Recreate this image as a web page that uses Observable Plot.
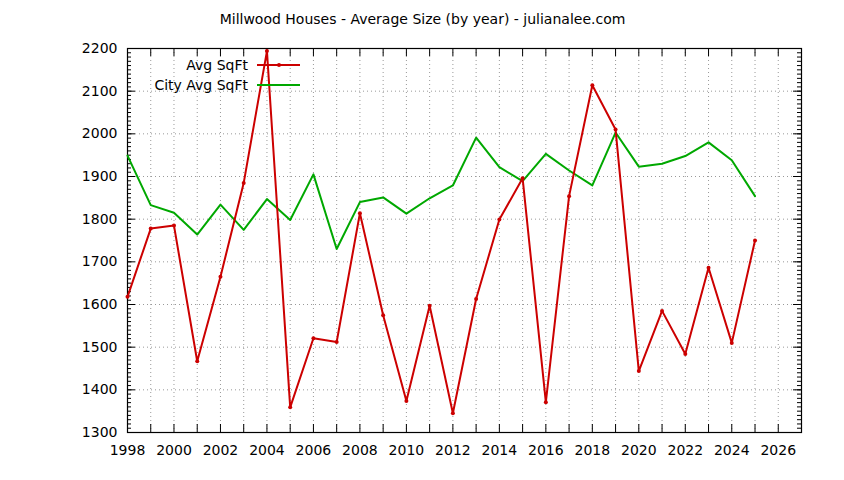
<!DOCTYPE html>
<html>
<head>
<meta charset="utf-8">
<script src="https://cdn.jsdelivr.net/npm/d3@7"></script>
<script src="https://cdn.jsdelivr.net/npm/@observablehq/plot@0.6"></script>
<style>
  html, body { margin: 0; padding: 0; background: #fff; }
  #chart svg { display: block; }
</style>
</head>
<body>
<div id="chart"></div>
<script>
const titleText = "Millwood Houses - Average Size (by year) - julianalee.com";
const years = [1998, 1999, 2000, 2001, 2002, 2003, 2004, 2005, 2006, 2007, 2008, 2009, 2010, 2011,
  2012, 2013, 2014, 2015, 2016, 2017, 2018, 2019, 2020, 2021, 2022, 2023, 2024, 2025];
const avgSqft = [1618, 1778, 1785, 1467, 1665, 1885, 2194, 1359, 1521, 1512, 1814, 1575, 1374, 1597,
  1345, 1613, 1799, 1896, 1371, 1854, 2114, 2010, 1444, 1585, 1484, 1686, 1510, 1750];
const cityAvgSqft = [1949, 1833, 1815, 1764, 1834, 1775, 1847, 1798, 1905, 1730, 1840, 1851, 1813, 1849,
  1879, 1991, 1922, 1889, 1953, 1914, 1879, 2003, 1923, 1930, 1948, 1980, 1938, 1854];
const seriesNames = ["Avg SqFt", "City Avg SqFt"];
const seriesColors = ["#cc0000", "#00a800"];
const xLabelTicks = [1998, 2000, 2002, 2004, 2006, 2008, 2010, 2012, 2014, 2016, 2018, 2020, 2022, 2024, 2026];
const xTickMarks = d3.range(1998, 2028);
const yLabelTicks = [1300, 1400, 1500, 1600, 1700, 1800, 1900, 2000, 2100, 2200];
const yMinorTicks = d3.range(1300, 2201, 10);

const rows = years.map((y, i) => ({year: y, avg: avgSqft[i], city: cityAvgSqft[i]}));

const W = 844, H = 480, mL = 127, mR = 43, mT = 48, mB = 48;
const fw = W - mL - mR, fh = H - mT - mB;
const font = "DejaVu Sans, sans-serif";

const plot = Plot.plot({
  width: W, height: H,
  marginLeft: mL, marginRight: mR, marginTop: mT, marginBottom: mB,
  style: {fontFamily: font, fontSize: "13px", color: "#000", background: "#fff"},
  x: {domain: [1998, 2027]},
  y: {domain: [1300, 2200]},
  marks: [
    Plot.gridX(xTickMarks, {stroke: "#999", strokeOpacity: 1, strokeDasharray: "1,3"}),
    Plot.gridY(yLabelTicks, {stroke: "#999", strokeOpacity: 1, strokeDasharray: "1,3"}),
    // tick marks (inward, gnuplot style)
    Plot.ruleX(xTickMarks, {x: d => d, insetTop: fh - 8, stroke: "#000"}),
    Plot.ruleX(xTickMarks, {x: d => d, insetBottom: fh - 8, stroke: "#000"}),
    Plot.ruleY(yLabelTicks, {y: d => d, insetRight: fw - 8, stroke: "#000"}),
    Plot.ruleY(yLabelTicks, {y: d => d, insetLeft: fw - 8, stroke: "#000"}),
    Plot.ruleY(yMinorTicks, {y: d => d, insetRight: fw - 4, stroke: "#000"}),
    Plot.ruleY(yMinorTicks, {y: d => d, insetLeft: fw - 4, stroke: "#000"}),
    Plot.frame({stroke: "#000", strokeWidth: 1.2}),
    Plot.axisX(xLabelTicks, {tickSize: 0, tickPadding: 13, tickFormat: d => String(d), fontSize: 14, label: null}),
    Plot.axisY(yLabelTicks, {tickSize: 0, tickPadding: 10, tickFormat: d => String(d), fontSize: 14, label: null}),
    Plot.line(rows, {x: "year", y: "city", stroke: seriesColors[1], strokeWidth: 2}),
    Plot.line(rows, {x: "year", y: "avg", stroke: seriesColors[0], strokeWidth: 2}),
    Plot.dot(rows, {x: "year", y: "avg", r: 2, fill: seriesColors[0], stroke: null}),
    Plot.text([titleText], {frameAnchor: "top", lineAnchor: "middle", dx: 422 - (mL + fw / 2), dy: -29, fontSize: 14, fill: "#000"})
  ]
});

// legend (gnuplot style, top-left inside frame)
const svg = d3.select(plot);
const leg = svg.append("g").attr("font-family", font).attr("font-size", 14);
seriesNames.forEach((name, i) => {
  const yy = 65 + i * 20;
  leg.append("text").attr("x", 248).attr("y", yy).attr("dy", "0.35em")
    .attr("text-anchor", "end").attr("fill", "#000").text(name);
  leg.append("line").attr("x1", 257).attr("x2", 300).attr("y1", yy).attr("y2", yy)
    .attr("stroke", seriesColors[i]).attr("stroke-width", 2);
  if (i === 0) {
    leg.append("circle").attr("cx", 279).attr("cy", yy).attr("r", 2).attr("fill", seriesColors[i]);
  }
});

document.getElementById("chart").appendChild(plot);
</script>
</body>
</html>
